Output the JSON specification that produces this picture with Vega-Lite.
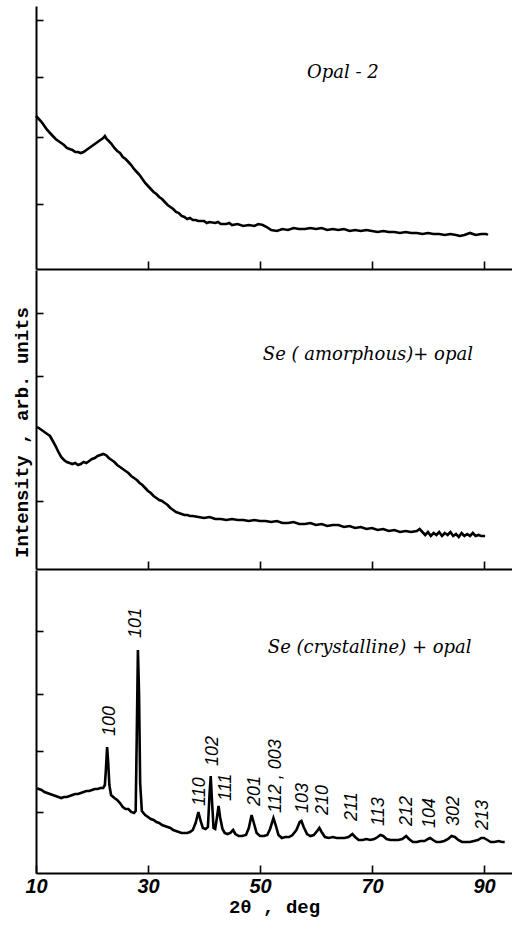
{
  "$schema": "https://vega.github.io/schema/vega-lite/v6.json",
  "padding": {"left": 12, "top": 6, "right": 0, "bottom": 4},
  "background": "white",
  "spacing": 0,
  "config": {
    "view": {"stroke": null},
    "axis": {"domainColor": "black", "domainWidth": 2, "tickColor": "black", "tickWidth": 1.6, "grid": false, "labelColor": "black", "titleColor": "black"}
  },
  "datasets": {
    "opal": [
      {"t":10,"v":153},{"t":10.5,"v":150},{"t":11,"v":147},{"t":11.5,"v":143},{"t":12,"v":139},{"t":12.5,"v":136},{"t":13,"v":133},{"t":13.5,"v":130},{"t":14,"v":128},{"t":14.5,"v":126},{"t":15,"v":124},{"t":15.5,"v":121},{"t":16,"v":120},{"t":16.5,"v":119},{"t":17,"v":117},{"t":17.5,"v":117},{"t":18,"v":116},{"t":18.5,"v":117},{"t":19,"v":119},{"t":19.5,"v":121},{"t":20,"v":123},{"t":20.5,"v":125},{"t":21,"v":127},{"t":21.5,"v":129},{"t":22,"v":131},{"t":22.3,"v":133},{"t":22.6,"v":130},{"t":23,"v":128},{"t":23.5,"v":125},{"t":24,"v":121},{"t":24.5,"v":118},{"t":25,"v":116},{"t":25.5,"v":112},{"t":26,"v":110},{"t":26.5,"v":107},{"t":27,"v":104},{"t":27.5,"v":100},{"t":28,"v":97},{"t":28.5,"v":94},{"t":29,"v":90},{"t":29.5,"v":86},{"t":30,"v":83},{"t":30.5,"v":80},{"t":31,"v":77},{"t":31.5,"v":75},{"t":32,"v":72},{"t":32.5,"v":70},{"t":33,"v":67},{"t":33.5,"v":64},{"t":34,"v":62},{"t":34.5,"v":60},{"t":35,"v":57},{"t":35.5,"v":56},{"t":36,"v":53},{"t":36.5,"v":52},{"t":37,"v":50},{"t":37.5,"v":51},{"t":38,"v":49},{"t":38.5,"v":49},{"t":39,"v":48},{"t":40,"v":48},{"t":40.5,"v":46},{"t":41,"v":47},{"t":42,"v":46},{"t":42.5,"v":47},{"t":43,"v":45},{"t":44,"v":45},{"t":44.5,"v":46},{"t":45,"v":44},{"t":46,"v":45},{"t":47,"v":43},{"t":48,"v":44},{"t":49,"v":43},{"t":49.7,"v":45},{"t":50.5,"v":44},{"t":51.2,"v":42},{"t":52,"v":39},{"t":53,"v":38},{"t":54,"v":40},{"t":55,"v":39},{"t":56,"v":41},{"t":57,"v":40},{"t":58,"v":40},{"t":59,"v":41},{"t":60,"v":40},{"t":61,"v":41},{"t":62,"v":39},{"t":63,"v":40},{"t":64,"v":39},{"t":65,"v":40},{"t":66,"v":38},{"t":67,"v":39},{"t":68,"v":38},{"t":69,"v":39},{"t":70,"v":38},{"t":71,"v":37},{"t":72,"v":38},{"t":73,"v":37},{"t":74,"v":37},{"t":75,"v":36},{"t":76,"v":37},{"t":77,"v":36},{"t":78,"v":36},{"t":79,"v":35},{"t":80,"v":36},{"t":81,"v":35},{"t":82,"v":35},{"t":83,"v":34},{"t":84,"v":35},{"t":85,"v":34},{"t":85.7,"v":33},{"t":86.5,"v":34},{"t":87.5,"v":36},{"t":88.5,"v":34},{"t":89.5,"v":35},{"t":90.4,"v":35},{"t":90.7,"v":34}
    ],
    "amor": [
      {"t":10.2,"v":142},{"t":10.5,"v":141},{"t":11,"v":139},{"t":11.5,"v":137},{"t":12,"v":135},{"t":12.5,"v":133},{"t":13,"v":128},{"t":13.5,"v":123},{"t":14,"v":117},{"t":14.5,"v":112},{"t":15,"v":109},{"t":15.5,"v":107},{"t":16,"v":106},{"t":16.5,"v":105},{"t":17,"v":106},{"t":17.5,"v":104},{"t":18,"v":105},{"t":18.5,"v":107},{"t":19,"v":106},{"t":19.5,"v":108},{"t":20,"v":110},{"t":20.5,"v":111},{"t":21,"v":113},{"t":21.5,"v":114},{"t":22,"v":115},{"t":22.5,"v":114},{"t":23,"v":111},{"t":23.5,"v":109},{"t":24,"v":107},{"t":24.5,"v":104},{"t":25,"v":102},{"t":25.5,"v":100},{"t":26,"v":98},{"t":26.5,"v":96},{"t":27,"v":93},{"t":27.5,"v":91},{"t":28,"v":89},{"t":28.5,"v":86},{"t":29,"v":84},{"t":29.5,"v":81},{"t":30,"v":78},{"t":30.5,"v":76},{"t":31,"v":73},{"t":31.5,"v":71},{"t":32,"v":69},{"t":32.5,"v":68},{"t":33,"v":66},{"t":33.5,"v":64},{"t":34,"v":61},{"t":34.5,"v":59},{"t":35,"v":57},{"t":35.5,"v":56},{"t":36,"v":55},{"t":36.5,"v":54},{"t":37,"v":54},{"t":37.5,"v":53},{"t":38,"v":53},{"t":39,"v":52},{"t":40,"v":51},{"t":41,"v":52},{"t":42,"v":50},{"t":43,"v":50},{"t":44,"v":49},{"t":45,"v":50},{"t":46,"v":49},{"t":47,"v":49},{"t":48,"v":48},{"t":49,"v":49},{"t":50,"v":48},{"t":51,"v":48},{"t":52,"v":47},{"t":53,"v":48},{"t":54,"v":46},{"t":55,"v":46},{"t":56,"v":47},{"t":57,"v":45},{"t":58,"v":45},{"t":59,"v":46},{"t":60,"v":44},{"t":61,"v":45},{"t":62,"v":43},{"t":63,"v":44},{"t":64,"v":44},{"t":65,"v":42},{"t":66,"v":43},{"t":67,"v":41},{"t":68,"v":42},{"t":69,"v":40},{"t":70,"v":41},{"t":71,"v":39},{"t":72,"v":40},{"t":73,"v":38},{"t":74,"v":39},{"t":75,"v":37},{"t":76,"v":38},{"t":77,"v":37},{"t":78,"v":38},{"t":78.5,"v":40},{"t":79,"v":37},{"t":79.5,"v":34},{"t":80,"v":37},{"t":80.5,"v":33},{"t":81,"v":36},{"t":81.5,"v":34},{"t":82,"v":37},{"t":82.5,"v":33},{"t":83,"v":36},{"t":83.5,"v":34},{"t":84,"v":37},{"t":84.5,"v":33},{"t":85,"v":35},{"t":85.5,"v":32},{"t":86,"v":36},{"t":86.5,"v":33},{"t":87,"v":35},{"t":87.5,"v":33},{"t":88,"v":36},{"t":88.5,"v":33},{"t":89,"v":34},{"t":89.5,"v":33},{"t":90.2,"v":33}
    ],
    "cryst": [
      {"t":10.2,"v":85},{"t":10.5,"v":84},{"t":11,"v":83},{"t":11.5,"v":81},{"t":12,"v":80},{"t":12.5,"v":79},{"t":13,"v":78},{"t":13.5,"v":77},{"t":14,"v":76},{"t":14.5,"v":75},{"t":15,"v":76},{"t":15.5,"v":76},{"t":16,"v":77},{"t":16.5,"v":78},{"t":17,"v":79},{"t":17.5,"v":79},{"t":18,"v":80},{"t":18.5,"v":81},{"t":19,"v":82},{"t":19.5,"v":82},{"t":20,"v":83},{"t":20.5,"v":84},{"t":21,"v":84},{"t":21.5,"v":85},{"t":22,"v":85},{"t":22.3,"v":88},{"t":22.5,"v":105},{"t":22.7,"v":126},{"t":22.9,"v":110},{"t":23.1,"v":88},{"t":23.4,"v":78},{"t":24,"v":75},{"t":24.5,"v":73},{"t":25,"v":70},{"t":25.5,"v":66},{"t":26,"v":64},{"t":26.5,"v":64},{"t":27,"v":61},{"t":27.5,"v":60},{"t":27.8,"v":62},{"t":28.0,"v":140},{"t":28.2,"v":223},{"t":28.4,"v":180},{"t":28.6,"v":90},{"t":28.9,"v":62},{"t":29.5,"v":58},{"t":30,"v":56},{"t":30.5,"v":54},{"t":31,"v":53},{"t":31.5,"v":51},{"t":32,"v":50},{"t":32.5,"v":48},{"t":33,"v":47},{"t":33.5,"v":46},{"t":34,"v":45},{"t":34.5,"v":43},{"t":35,"v":42},{"t":35.5,"v":41},{"t":36,"v":40},{"t":36.5,"v":40},{"t":37,"v":40},{"t":37.5,"v":41},{"t":38,"v":43},{"t":38.5,"v":50},{"t":39.0,"v":61},{"t":39.4,"v":52},{"t":39.8,"v":45},{"t":40.3,"v":44},{"t":40.7,"v":46},{"t":41.0,"v":80},{"t":41.2,"v":97},{"t":41.4,"v":75},{"t":41.7,"v":45},{"t":42.0,"v":44},{"t":42.3,"v":55},{"t":42.6,"v":67},{"t":42.9,"v":55},{"t":43.3,"v":44},{"t":43.7,"v":40},{"t":44.2,"v":39},{"t":44.7,"v":40},{"t":45.2,"v":43},{"t":45.6,"v":39},{"t":46.2,"v":37},{"t":46.8,"v":37},{"t":47.5,"v":38},{"t":48.0,"v":45},{"t":48.5,"v":58},{"t":48.9,"v":50},{"t":49.4,"v":40},{"t":50.0,"v":37},{"t":50.7,"v":37},{"t":51.3,"v":38},{"t":51.8,"v":44},{"t":52.4,"v":55},{"t":52.8,"v":48},{"t":53.3,"v":38},{"t":53.9,"v":35},{"t":54.5,"v":36},{"t":55.2,"v":36},{"t":55.8,"v":38},{"t":56.5,"v":43},{"t":57.1,"v":51},{"t":57.4,"v":52},{"t":57.8,"v":46},{"t":58.4,"v":39},{"t":59.0,"v":37},{"t":59.6,"v":38},{"t":60.2,"v":42},{"t":60.6,"v":45},{"t":61.0,"v":41},{"t":61.6,"v":36},{"t":62.3,"v":35},{"t":63.0,"v":36},{"t":63.7,"v":35},{"t":64.4,"v":35},{"t":65.1,"v":35},{"t":65.8,"v":36},{"t":66.5,"v":39},{"t":67.0,"v":36},{"t":67.6,"v":33},{"t":68.3,"v":33},{"t":69.0,"v":34},{"t":69.7,"v":33},{"t":70.4,"v":34},{"t":71.0,"v":36},{"t":71.5,"v":38},{"t":72.0,"v":37},{"t":72.6,"v":34},{"t":73.3,"v":33},{"t":74.0,"v":33},{"t":74.7,"v":33},{"t":75.4,"v":34},{"t":76.1,"v":37},{"t":76.6,"v":34},{"t":77.3,"v":31},{"t":78.0,"v":31},{"t":78.7,"v":32},{"t":79.4,"v":32},{"t":80.0,"v":34},{"t":80.4,"v":35},{"t":80.9,"v":33},{"t":81.5,"v":31},{"t":82.2,"v":31},{"t":82.9,"v":32},{"t":83.6,"v":34},{"t":84.2,"v":37},{"t":84.8,"v":36},{"t":85.4,"v":33},{"t":86.1,"v":31},{"t":86.8,"v":31},{"t":87.5,"v":31},{"t":88.2,"v":32},{"t":88.9,"v":33},{"t":89.5,"v":35},{"t":90.0,"v":35},{"t":90.6,"v":33},{"t":91.2,"v":31},{"t":91.9,"v":31},{"t":92.6,"v":32},{"t":93.2,"v":31},{"t":93.7,"v":31}
    ],
    "peaks": [
      {"t":23.3,"v":137,"hkl":"100"},{"t":27.9,"v":235,"hkl":"101"},{"t":39.3,"v":67,"hkl":"110"},{"t":41.6,"v":107,"hkl":"102"},{"t":43.9,"v":72,"hkl":"111"},{"t":49.1,"v":67,"hkl":"201"},{"t":52.8,"v":60,"hkl":"112 , 003"},{"t":57.6,"v":60,"hkl":"103"},{"t":61.2,"v":58,"hkl":"210"},{"t":66.5,"v":52,"hkl":"211"},{"t":71.3,"v":47,"hkl":"113"},{"t":76.3,"v":47,"hkl":"212"},{"t":80.3,"v":45,"hkl":"104"},{"t":84.6,"v":47,"hkl":"302"},{"t":89.9,"v":43,"hkl":"213"}
    ]
  },
  "vconcat": [
    {
      "width": 476, "height": 263,
      "layer": [
        {
          "data": {"name": "opal"},
          "mark": {"type": "line", "color": "black", "strokeWidth": 2.6},
          "encoding": {
            "x": {"field": "t", "type": "quantitative", "scale": {"domain": [10, 95], "nice": false}, "axis": {"values": [30, 50, 70, 90], "labels": false, "tickSize": -8, "title": null}},
            "y": {"field": "v", "type": "quantitative", "scale": {"domain": [0, 263], "nice": false}, "axis": {"values": [65, 132, 192, 249], "labels": false, "tickSize": -7, "title": "Intensity , arb. units", "titleOpacity": 0, "titleFont": "Liberation Mono", "titleFontSize": 19, "titleFontWeight": "bold", "titlePadding": 4}}
          }
        },
        {
          "data": {"values": [{"t": 58.4, "v": 196, "txt": "Opal - 2"}]},
          "mark": {"type": "text", "align": "left", "baseline": "middle", "font": "DejaVu Serif", "fontStyle": "italic", "fontSize": 18, "color": "black"},
          "encoding": {"x": {"field": "t", "type": "quantitative"}, "y": {"field": "v", "type": "quantitative"}, "text": {"field": "txt"}}
        }
      ]
    },
    {
      "width": 476, "height": 299,
      "layer": [
        {
          "data": {"name": "amor"},
          "mark": {"type": "line", "color": "black", "strokeWidth": 2.6},
          "encoding": {
            "x": {"field": "t", "type": "quantitative", "scale": {"domain": [10, 95], "nice": false}, "axis": {"values": [30, 50, 70, 90], "labels": false, "tickSize": -8, "title": null}},
            "y": {"field": "v", "type": "quantitative", "scale": {"domain": [0, 299], "nice": false}, "axis": {"values": [68, 193, 256], "labels": false, "tickSize": -7, "title": "Intensity , arb. units", "titleFont": "Liberation Mono", "titleFontSize": 19, "titleFontWeight": "bold", "titlePadding": 4, "titleY": 162}}
          }
        },
        {
          "data": {"values": [{"t": 50.5, "v": 214, "txt": "Se ( amorphous)+ opal"}]},
          "mark": {"type": "text", "align": "left", "baseline": "middle", "font": "DejaVu Serif", "fontStyle": "italic", "fontSize": 18, "color": "black"},
          "encoding": {"x": {"field": "t", "type": "quantitative"}, "y": {"field": "v", "type": "quantitative"}, "text": {"field": "txt"}}
        }
      ]
    },
    {
      "width": 476, "height": 303,
      "layer": [
        {
          "data": {"name": "cryst"},
          "mark": {"type": "line", "color": "black", "strokeWidth": 2.6},
          "encoding": {
            "x": {"field": "t", "type": "quantitative", "scale": {"domain": [10, 95], "nice": false}, "axis": {"values": [10, 30, 50, 70, 90], "tickSize": -8, "labelFlush": false, "labelPadding": 11, "labelFont": "Liberation Sans", "labelFontStyle": "italic", "labelFontWeight": "bold", "labelFontSize": 20, "title": "2θ , deg", "titleFont": "Liberation Mono", "titleFontSize": 19, "titleFontWeight": "bold", "titlePadding": 1}},
            "y": {"field": "v", "type": "quantitative", "scale": {"domain": [0, 303], "nice": false}, "axis": {"values": [61, 122, 179, 242], "labels": false, "tickSize": -7, "title": "Intensity , arb. units", "titleOpacity": 0, "titleFont": "Liberation Mono", "titleFontSize": 19, "titleFontWeight": "bold", "titlePadding": 4}}
          }
        },
        {
          "data": {"name": "peaks"},
          "mark": {"type": "text", "angle": 270, "align": "left", "baseline": "middle", "font": "Liberation Sans", "fontStyle": "italic", "fontSize": 18, "color": "black"},
          "encoding": {"x": {"field": "t", "type": "quantitative"}, "y": {"field": "v", "type": "quantitative"}, "text": {"field": "hkl"}}
        },
        {
          "data": {"values": [{"t": 51.4, "v": 225, "txt": "Se (crystalline) + opal"}]},
          "mark": {"type": "text", "align": "left", "baseline": "middle", "font": "DejaVu Serif", "fontStyle": "italic", "fontSize": 18, "color": "black"},
          "encoding": {"x": {"field": "t", "type": "quantitative"}, "y": {"field": "v", "type": "quantitative"}, "text": {"field": "txt"}}
        }
      ]
    }
  ]
}
